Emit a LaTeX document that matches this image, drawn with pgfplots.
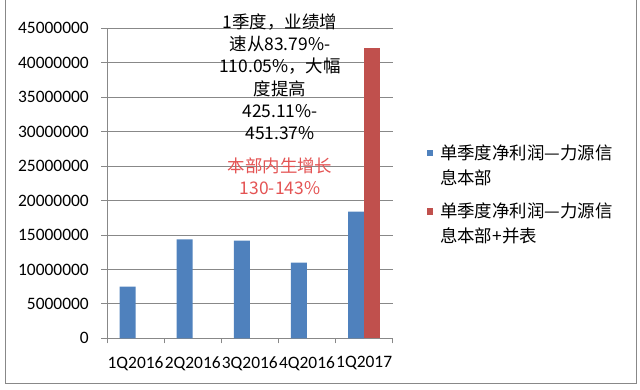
\documentclass[border=0pt]{standalone}
\usepackage{pgfplots}
\pgfplotsset{compat=1.18}
\usepackage{fontspec}
\setmainfont{Carlito}
\newfontfamily\cjk{Noto Sans CJK SC}
\definecolor{barblue}{HTML}{4F81BD}
\definecolor{barred}{HTML}{C0504D}
\definecolor{gridgray}{HTML}{888888}
\definecolor{notered}{RGB}{228,84,84}
\begin{document}
\begin{tikzpicture}[x=1bp,y=1bp]
\useasboundingbox (0,0) rectangle (640,389);
\draw[gridgray, line width=0.8bp] (5,389) -- (5,6) -- (636.5,6) -- (636.5,389);
\begin{axis}[
  at={(107bp,50.7bp)}, anchor=origin,
  scale only axis, width=285.7bp, height=310bp,
  xmin=0, xmax=5, ymin=0, ymax=45000000,
  axis x line*=bottom, axis y line*=left,
  axis line style={gridgray, -, line width=0.8bp},
  ybar=0pt, bar width=16bp,
  scaled y ticks=false,
  xtick={0.5,1.5,2.5,3.5,4.5},
  xticklabels={1Q2016,2Q2016,3Q2016,4Q2016,1Q2017},
  minor xtick={0,1,2,3,4,5},
  ytick={0,5000000,10000000,15000000,20000000,25000000,30000000,35000000,40000000,45000000},
  yticklabels={0,5000000,10000000,15000000,20000000,25000000,30000000,35000000,40000000,45000000},
  ymajorgrids, grid style={gridgray, line width=0.8bp},
  tick align=outside,
  major x tick style={draw=none},
  minor x tick style={gridgray, line width=0.8bp},
  y tick style={gridgray, line width=0.8bp},
  major tick length=6bp, minor tick length=5bp,
  tick label style={font=\fontsize{17.5}{20}\selectfont, inner sep=0pt},
  xticklabel style={yshift=-12bp},
  yticklabel style={xshift=-12bp},
  legend style={draw=none, fill=none, inner sep=0pt, outer sep=0pt,
    at={(1.1183,0.6235)}, anchor=north west,
    font=\cjk\fontsize{17.5}{25}\selectfont,
    nodes={inner sep=0pt}, row sep=17bp, column sep=7bp,
    cells={align=left}},
  legend cell align=left,
  legend image code/.code={\fill[#1,draw=none] (0bp,9.2bp) rectangle (6.6bp,15.8bp);},
]
\addplot[fill=barblue, draw=none] coordinates {(0.5,7500000) (1.5,14370000) (2.5,14170000) (3.5,10970000) (4.5,18400000)};
\addlegendentry{单季度净利润—力源信\\息本部}
\addplot[fill=barred, draw=none] coordinates {(4.5,42100000)};
\addlegendentry{单季度净利润—力源信\\息本部+并表}
\end{axis}
\node[align=center, font=\cjk\fontsize{17.5}{22.3}\selectfont, inner sep=0pt] at (280,312.3)
  {1季度，业绩增\\速从83.79\%-\\110.05\%，大幅\\度提高\\425.11\%-\\451.37\%};
\node[align=center, text=notered, font=\cjk\fontsize{17.5}{22}\selectfont, inner sep=0pt] at (280,213.1)
  {本部内生增长\\130-143\%};
\end{tikzpicture}
\end{document}
